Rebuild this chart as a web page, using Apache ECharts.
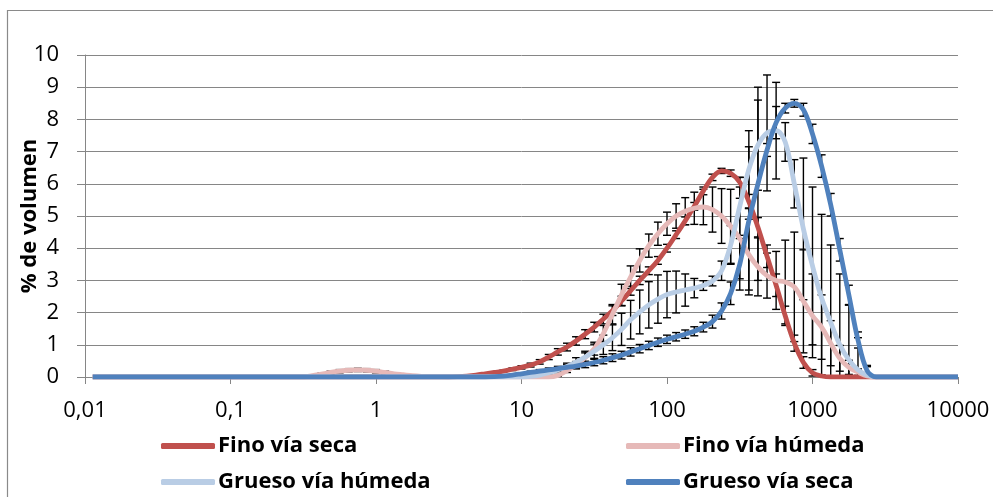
<!DOCTYPE html>
<html>
<head>
<meta charset="utf-8">
<script src="https://cdn.jsdelivr.net/npm/echarts@6/dist/echarts.min.js"></script>
<style>
  html, body { margin: 0; padding: 0; background: #fff; }
  #chart { width: 993px; height: 497px; }
</style>
</head>
<body>
<div id="chart"></div>
<script>
// Particle size (µm), shared by all four distributions
const sizes = [
  0.0113, 0.1, 0.3162, 0.3652, 0.4217, 0.4870, 0.5623, 0.6494, 0.7499, 0.8660,
  1, 1.155, 1.334, 1.540, 1.778, 2.054, 2.371, 2.738, 3.162, 3.652,
  4.217, 4.870, 5.623, 6.494, 7.499, 8.660, 10, 11.55, 13.34, 15.40,
  17.78, 20.54, 23.71, 27.38, 31.62, 36.52, 42.17, 48.70, 56.23, 64.94,
  74.99, 86.60, 100, 115.5, 133.4, 154.0, 177.8, 205.4, 237.1, 273.8,
  316.2, 365.2, 421.7, 487.0, 562.3, 649.4, 749.9, 866.0, 1000, 1155,
  1334, 1540, 1778, 2054, 2371, 2738, 3162, 10000
];

// % volume per size class
const finoSeca = [
  0, 0, 0, 0, 0, 0, 0, 0, 0, 0,
  0, 0, 0, 0, 0, 0, 0, 0, 0, 0.01,
  0.03, 0.06, 0.10, 0.14, 0.18, 0.24, 0.30, 0.37, 0.47, 0.62,
  0.78, 0.93, 1.12, 1.33, 1.55, 1.80, 2.06, 2.36, 2.68, 3.00,
  3.30, 3.62, 4.00, 4.42, 4.85, 5.30, 5.78, 6.20, 6.40, 6.33,
  6.05, 5.45, 4.65, 3.75, 2.85, 1.90, 1.05, 0.45, 0.13, 0.03,
  0, 0, 0, 0, 0, 0, 0, 0
];
const finoHumeda = [
  0, 0, 0, 0.04, 0.09, 0.14, 0.18, 0.21, 0.22, 0.21,
  0.18, 0.14, 0.10, 0.07, 0.04, 0.02, 0.01, 0.01, 0, 0,
  0, 0, 0, 0, 0, 0, 0, 0, 0, 0,
  0.05, 0.20, 0.38, 0.60, 0.88, 1.35, 1.95, 2.55, 3.10, 3.62,
  4.08, 4.45, 4.76, 5.00, 5.15, 5.24, 5.28, 5.20, 5.00, 4.68,
  4.30, 3.80, 3.42, 3.15, 3.00, 2.95, 2.80, 2.35, 1.90, 1.55,
  1.05, 0.58, 0.30, 0.15, 0.03, 0, 0, 0
];
const gruesoHumeda = [
  0, 0, 0, 0, 0, 0, 0, 0, 0, 0,
  0, 0, 0, 0, 0, 0, 0, 0, 0, 0,
  0, 0, 0, 0, 0, 0, 0, 0.02, 0.06, 0.13,
  0.22, 0.33, 0.46, 0.62, 0.80, 1.00, 1.22, 1.48, 1.78, 2.02,
  2.24, 2.42, 2.56, 2.64, 2.70, 2.76, 2.84, 2.98, 3.30, 4.10,
  5.30, 6.45, 7.20, 7.58, 7.65, 7.30, 6.00, 4.60, 3.45, 2.45,
  1.70, 1.00, 0.53, 0.22, 0.06, 0, 0, 0
];
const gruesoSeca = [
  0, 0, 0, 0, 0, 0, 0, 0, 0, 0,
  0, 0, 0, 0, 0, 0, 0, 0, 0, 0,
  0, 0, 0, 0.01, 0.03, 0.06, 0.10, 0.14, 0.18, 0.22,
  0.26, 0.30, 0.34, 0.39, 0.45, 0.52, 0.60, 0.68, 0.78, 0.88,
  0.98, 1.08, 1.17, 1.25, 1.33, 1.42, 1.55, 1.72, 2.05, 2.60,
  3.50, 4.85, 6.00, 7.05, 7.90, 8.35, 8.50, 8.30, 7.55, 6.55,
  5.35, 3.95, 2.55, 1.15, 0.20, 0, 0, 0
];

// ± error per size class
const errFinoSeca = [
  0, 0, 0, 0, 0, 0, 0, 0, 0, 0,
  0, 0, 0, 0, 0, 0, 0, 0, 0, 0,
  0, 0, 0, 0.02, 0.03, 0.04, 0.05, 0.06, 0.07, 0.08,
  0.10, 0.12, 0.13, 0.14, 0.15, 0.15, 0.15, 0.15, 0.14, 0.13,
  0.12, 0.12, 0.12, 0.12, 0.12, 0.12, 0.12, 0.10, 0.08, 0.10,
  0.15, 0.22, 0.30, 0.35, 0.35, 0.30, 0.25, 0.18, 0.10, 0.04,
  0, 0, 0, 0, 0, 0, 0, 0
];
const errFinoHumeda = [
  0, 0, 0, 0.02, 0.03, 0.04, 0.05, 0.05, 0.05, 0.05,
  0.05, 0.04, 0.03, 0.02, 0.02, 0.01, 0.01, 0.01, 0, 0,
  0, 0, 0, 0, 0, 0, 0, 0, 0, 0,
  0.03, 0.06, 0.10, 0.15, 0.20, 0.25, 0.30, 0.33, 0.35, 0.36,
  0.36, 0.36, 0.36, 0.38, 0.42, 0.50, 0.55, 0.70, 0.85, 1.15,
  1.25, 1.10, 0.90, 0.70, 0.90, 1.30, 1.70, 1.60, 1.30, 1.00,
  0.70, 0.40, 0.22, 0.10, 0.03, 0, 0, 0
];
const errGruesoHumeda = [
  0, 0, 0, 0, 0, 0, 0, 0, 0, 0,
  0, 0, 0, 0, 0, 0, 0, 0, 0, 0,
  0, 0, 0, 0, 0, 0, 0, 0, 0, 0.03,
  0.06, 0.10, 0.14, 0.18, 0.22, 0.30, 0.40, 0.50, 0.60, 0.68,
  0.72, 0.75, 0.72, 0.65, 0.50, 0.30, 0.15, 0.15, 0.30, 0.60,
  0.90, 1.20, 1.40, 1.80, 1.50, 0.60, 0.75, 2.20, 2.45, 2.60,
  2.40, 2.20, 1.70, 1.00, 0.30, 0, 0, 0
];
const errGruesoSeca = [
  0, 0, 0, 0, 0, 0, 0, 0, 0, 0,
  0, 0, 0, 0, 0, 0, 0, 0, 0, 0,
  0, 0, 0, 0, 0, 0, 0.03, 0.04, 0.05, 0.06,
  0.07, 0.08, 0.09, 0.10, 0.10, 0.11, 0.12, 0.12, 0.13, 0.13,
  0.13, 0.13, 0.13, 0.13, 0.13, 0.14, 0.15, 0.20, 0.25, 0.35,
  0.80, 2.30, 3.00, 0.20, 0.50, 0.15, 0.12, 0.20, 0.30, 0.35,
  0.35, 0.35, 0.30, 0.25, 0.12, 0.03, 0, 0
];

const seriesNames = ['Fino vía seca', 'Fino vía húmeda', 'Grueso vía húmeda', 'Grueso vía seca'];
const seriesColors = ['#C0504D', '#E6B9B8', '#B9CDE5', '#4F81BD'];
const seriesValues = [finoSeca, finoHumeda, gruesoHumeda, gruesoSeca];
const seriesErrors = [errFinoSeca, errFinoHumeda, errGruesoHumeda, errGruesoSeca];

const xTickLabels = ['0,01', '0,1', '1', '10', '100', '1000', '10000'];
const yTickLabels = ['0', '1', '2', '3', '4', '5', '6', '7', '8', '9', '10'];

const FONT = 'Open Sans';
const AXIS_GREY = '#868686';

const chart = echarts.init(document.getElementById('chart'), null, { renderer: 'canvas' });

// vertical error bar with caps; the lower end stops at the y-axis minimum
function renderErrorBar(params, api) {
  const x = api.value(0);
  const lo = api.value(1);
  const hi = api.value(2);
  const top = api.coord([x, hi]);
  const clipped = lo < 0;
  const bot = api.coord([x, clipped ? 0 : lo]);
  const half = 4;
  const style = { stroke: '#000', lineWidth: 1.4 };
  const children = [
    { type: 'line', shape: { x1: top[0], y1: top[1], x2: bot[0], y2: bot[1] }, style },
    { type: 'line', shape: { x1: top[0] - half, y1: top[1], x2: top[0] + half, y2: top[1] }, style }
  ];
  if (!clipped) {
    children.push({ type: 'line', shape: { x1: bot[0] - half, y1: bot[1], x2: bot[0] + half, y2: bot[1] }, style });
  }
  return { type: 'group', children };
}

const errorSeries = seriesValues.map((vals, k) => ({
  type: 'custom',
  name: 'err' + k,
  coordinateSystem: 'cartesian2d',
  renderItem: renderErrorBar,
  encode: { x: 0, y: [1, 2] },
  data: sizes
    .map((x, i) => [x, vals[i] - seriesErrors[k][i], vals[i] + seriesErrors[k][i], seriesErrors[k][i]])
    .filter(d => d[3] > 0),
  z: 1,
  silent: true,
  animation: false
}));

const lineSeries = seriesValues.map((vals, k) => ({
  type: 'line',
  name: seriesNames[k],
  data: sizes.map((x, i) => [x, vals[i]]),
  showSymbol: false,
  symbol: 'none',
  smooth: 0.35,
  color: seriesColors[k],
  lineStyle: { width: 4.8, color: seriesColors[k] },
  z: 3 + k,
  silent: true,
  animation: false
}));

const legendBase = {
  icon: 'roundRect',
  itemWidth: 54,
  itemHeight: 6,
  itemGap: 0,
  padding: 0,
  selectedMode: false,
  textStyle: { fontFamily: FONT, fontSize: 22, fontWeight: 'bold', color: '#000', padding: [0, 0, 0, -2] }
};

const legendPos = [
  { left: 161, top: 435 },
  { left: 626, top: 435 },
  { left: 161, top: 471 },
  { left: 626, top: 471 }
];

const option = {
  backgroundColor: '#fff',
  animation: false,
  grid: { left: 85, right: 35, top: 55, bottom: 120, containLabel: false, outerBoundsMode: 'none' },
  graphic: [{
    type: 'rect',
    shape: { x: 7.5, y: 10.5, width: 1000, height: 500 },
    style: { fill: 'none', stroke: '#8a8a8a', lineWidth: 1.2 },
    silent: true
  }],
  legend: legendPos.map((p, k) => Object.assign({}, legendBase, p, { data: [seriesNames[k]] })),
  xAxis: {
    type: 'log',
    logBase: 10,
    min: 0.01,
    max: 10000,
    splitNumber: 6,
    axisLine: { show: true, onZero: false, lineStyle: { color: AXIS_GREY, width: 1 } },
    axisTick: { show: true, length: 7, lineStyle: { color: AXIS_GREY } },
    minorTick: { show: false },
    splitLine: { show: false },
    axisLabel: {
      fontFamily: FONT, fontSize: 22, color: '#000', margin: 23,
      formatter: v => xTickLabels[Math.round(Math.log10(v)) + 2]
    }
  },
  yAxis: {
    type: 'value',
    min: 0,
    max: 10,
    interval: 1,
    name: '% de volumen',
    nameLocation: 'middle',
    nameRotate: 90,
    nameGap: 44,
    nameMoveOverlap: false,
    nameTextStyle: { fontFamily: FONT, fontSize: 22, fontWeight: 'bold', color: '#000' },
    axisLine: { show: true, lineStyle: { color: AXIS_GREY, width: 1 } },
    axisTick: { show: true, length: 8, lineStyle: { color: AXIS_GREY } },
    splitLine: { show: true, lineStyle: { color: AXIS_GREY, width: 1 } },
    axisLabel: {
      fontFamily: FONT, fontSize: 22, color: '#000', margin: 26,
      formatter: v => yTickLabels[Math.round(v)]
    }
  },
  series: errorSeries.concat(lineSeries)
};

chart.setOption(option);
</script>
</body>
</html>
